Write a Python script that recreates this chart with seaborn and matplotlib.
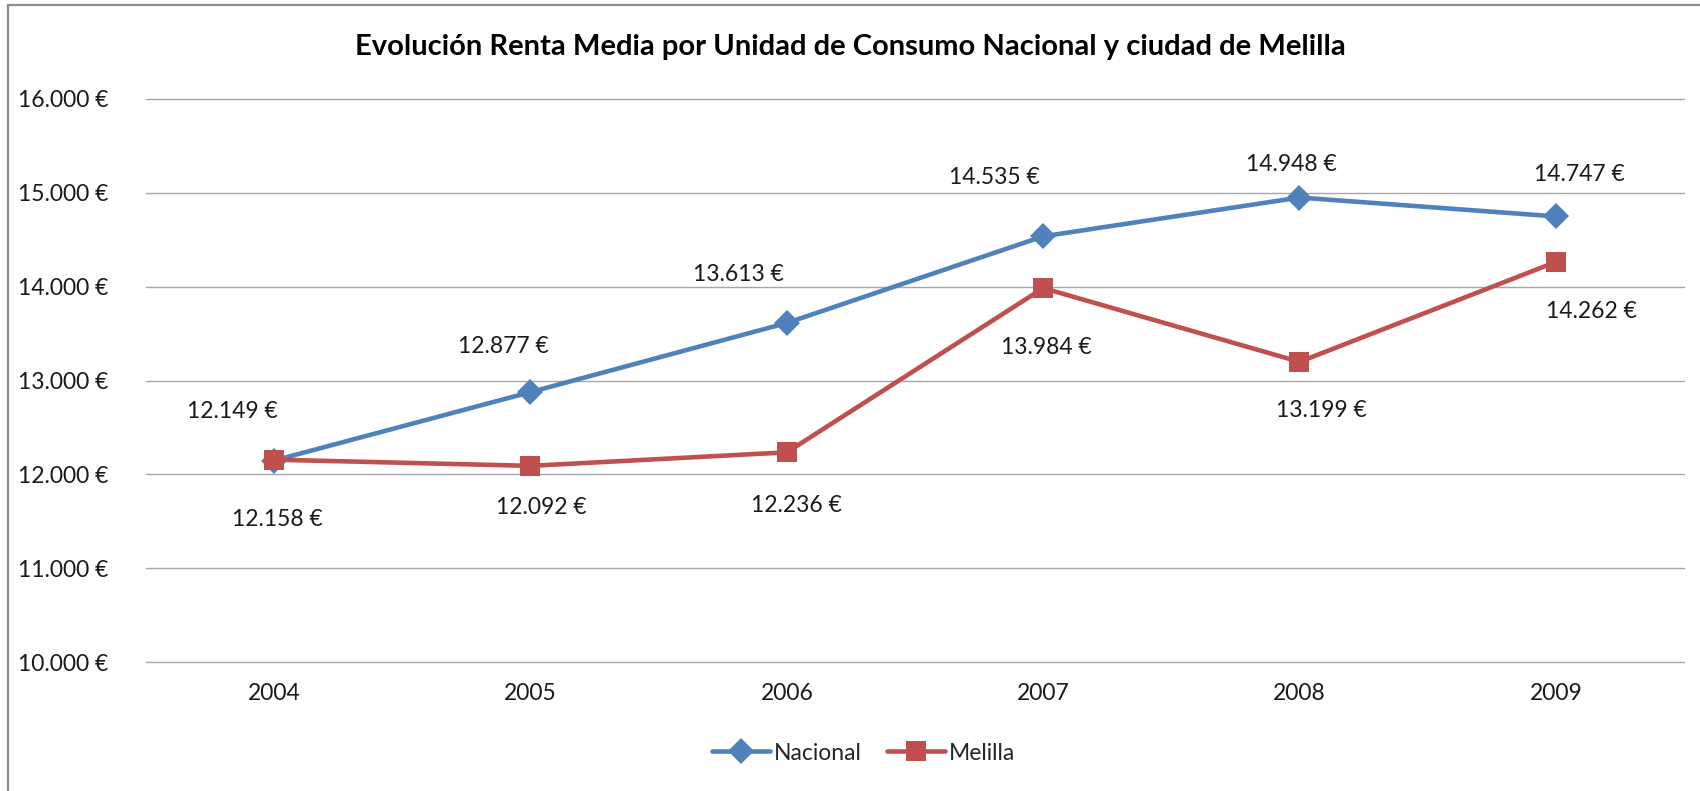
import pandas as pd
import matplotlib.pyplot as plt
from matplotlib.lines import Line2D
from matplotlib.ticker import FuncFormatter
import seaborn as sns

years = ['2004', '2005', '2006', '2007', '2008', '2009']
nacional = [12149, 12877, 13613, 14535, 14948, 14747]
melilla = [12158, 12092, 12236, 13984, 13199, 14262]
y_ticks = [10000, 11000, 12000, 13000, 14000, 15000, 16000]

# label offsets (pixels) as placed by hand in the original chart
off_nacional = [(-42, 49), (-27, 46), (-48, 48), (-49, 59), (-8, 33), (24, 42)]
off_melilla = [(3, -60), (11, -42), (10, -53), (3, -59), (22, -49), (36, -50)]

BLUE = '#4F81BD'
RED = '#C0504D'


def euro(v, pos=None):
    return '{:,.0f} €'.format(v).replace(',', '.')


sns.set_theme(style='white')
plt.rcParams['font.family'] = ['Lato', 'DejaVu Sans']

df = pd.DataFrame({'pos': list(range(len(years))) * 2,
                   'value': nacional + melilla,
                   'serie': ['Nacional'] * len(years) + ['Melilla'] * len(years)})

fig = plt.figure(figsize=(17, 7.91), dpi=100)
ax = fig.add_axes([146 / 1700, 1 - 662.4 / 791, (1684 - 146) / 1700, (662.4 - 98.7) / 791])

sns.lineplot(data=df[df['serie'] == 'Nacional'], x='pos', y='value', ax=ax,
             color=BLUE, linewidth=3.3, marker='D', markersize=13,
             markeredgewidth=0, label='Nacional')
sns.lineplot(data=df[df['serie'] == 'Melilla'], x='pos', y='value', ax=ax,
             color=RED, linewidth=3.3, marker='s', markersize=14.5,
             markeredgewidth=0, label='Melilla')

for i, v in enumerate(nacional):
    ax.annotate(euro(v), (i, v), xytext=off_nacional[i], textcoords='offset pixels',
                ha='center', va='center', fontsize=16.5, color='#1a1a1a')
for i, v in enumerate(melilla):
    ax.annotate(euro(v), (i, v), xytext=off_melilla[i], textcoords='offset pixels',
                ha='center', va='center', fontsize=16.5, color='#1a1a1a')

ax.set_xlim(-0.5, len(years) - 0.5)
ax.set_ylim(10000, 16000)
ax.set_xticks(range(len(years)))
ax.set_xticklabels(years)
ax.set_yticks(y_ticks)
ax.yaxis.set_major_formatter(FuncFormatter(euro))
ax.set_xlabel('')
ax.set_ylabel('')
ax.grid(axis='y', color='#a6a6a6', linewidth=1.0)
for gl in ax.get_ygridlines():
    gl.set_clip_on(False)
ax.set_axisbelow(True)
for s in ax.spines.values():
    s.set_visible(False)
ax.tick_params(axis='both', length=0, labelsize=16.5, colors='#1a1a1a')
ax.tick_params(axis='y', pad=27)
ax.tick_params(axis='x', pad=15)

ax.get_legend().remove()
handles, labels = ax.get_legend_handles_labels()
fig.legend(handles, labels, loc='center', bbox_to_anchor=(864 / 1700, 1 - 753 / 791),
           ncol=2, frameon=False, fontsize=16.5, handlelength=2.5, handletextpad=0.2,
           columnspacing=1.1)

fig.text(850 / 1700, 1 - 47 / 791,
         'Evolución Renta Media por Unidad de Consumo Nacional y ciudad de Melilla',
         ha='center', va='center', fontsize=21, fontweight='bold', color='#000000')

# outer chart frame (only top and left edges fall inside the picture)
fig.add_artist(Line2D([7.5 / 1700, 7.5 / 1700], [0, 1 - 5 / 791], transform=fig.transFigure,
                      color='#8c8c8c', linewidth=1.6))
fig.add_artist(Line2D([7.5 / 1700, 1], [1 - 5 / 791, 1 - 5 / 791], transform=fig.transFigure,
                      color='#8c8c8c', linewidth=1.6))

fig.savefig('out.png', dpi=100)
